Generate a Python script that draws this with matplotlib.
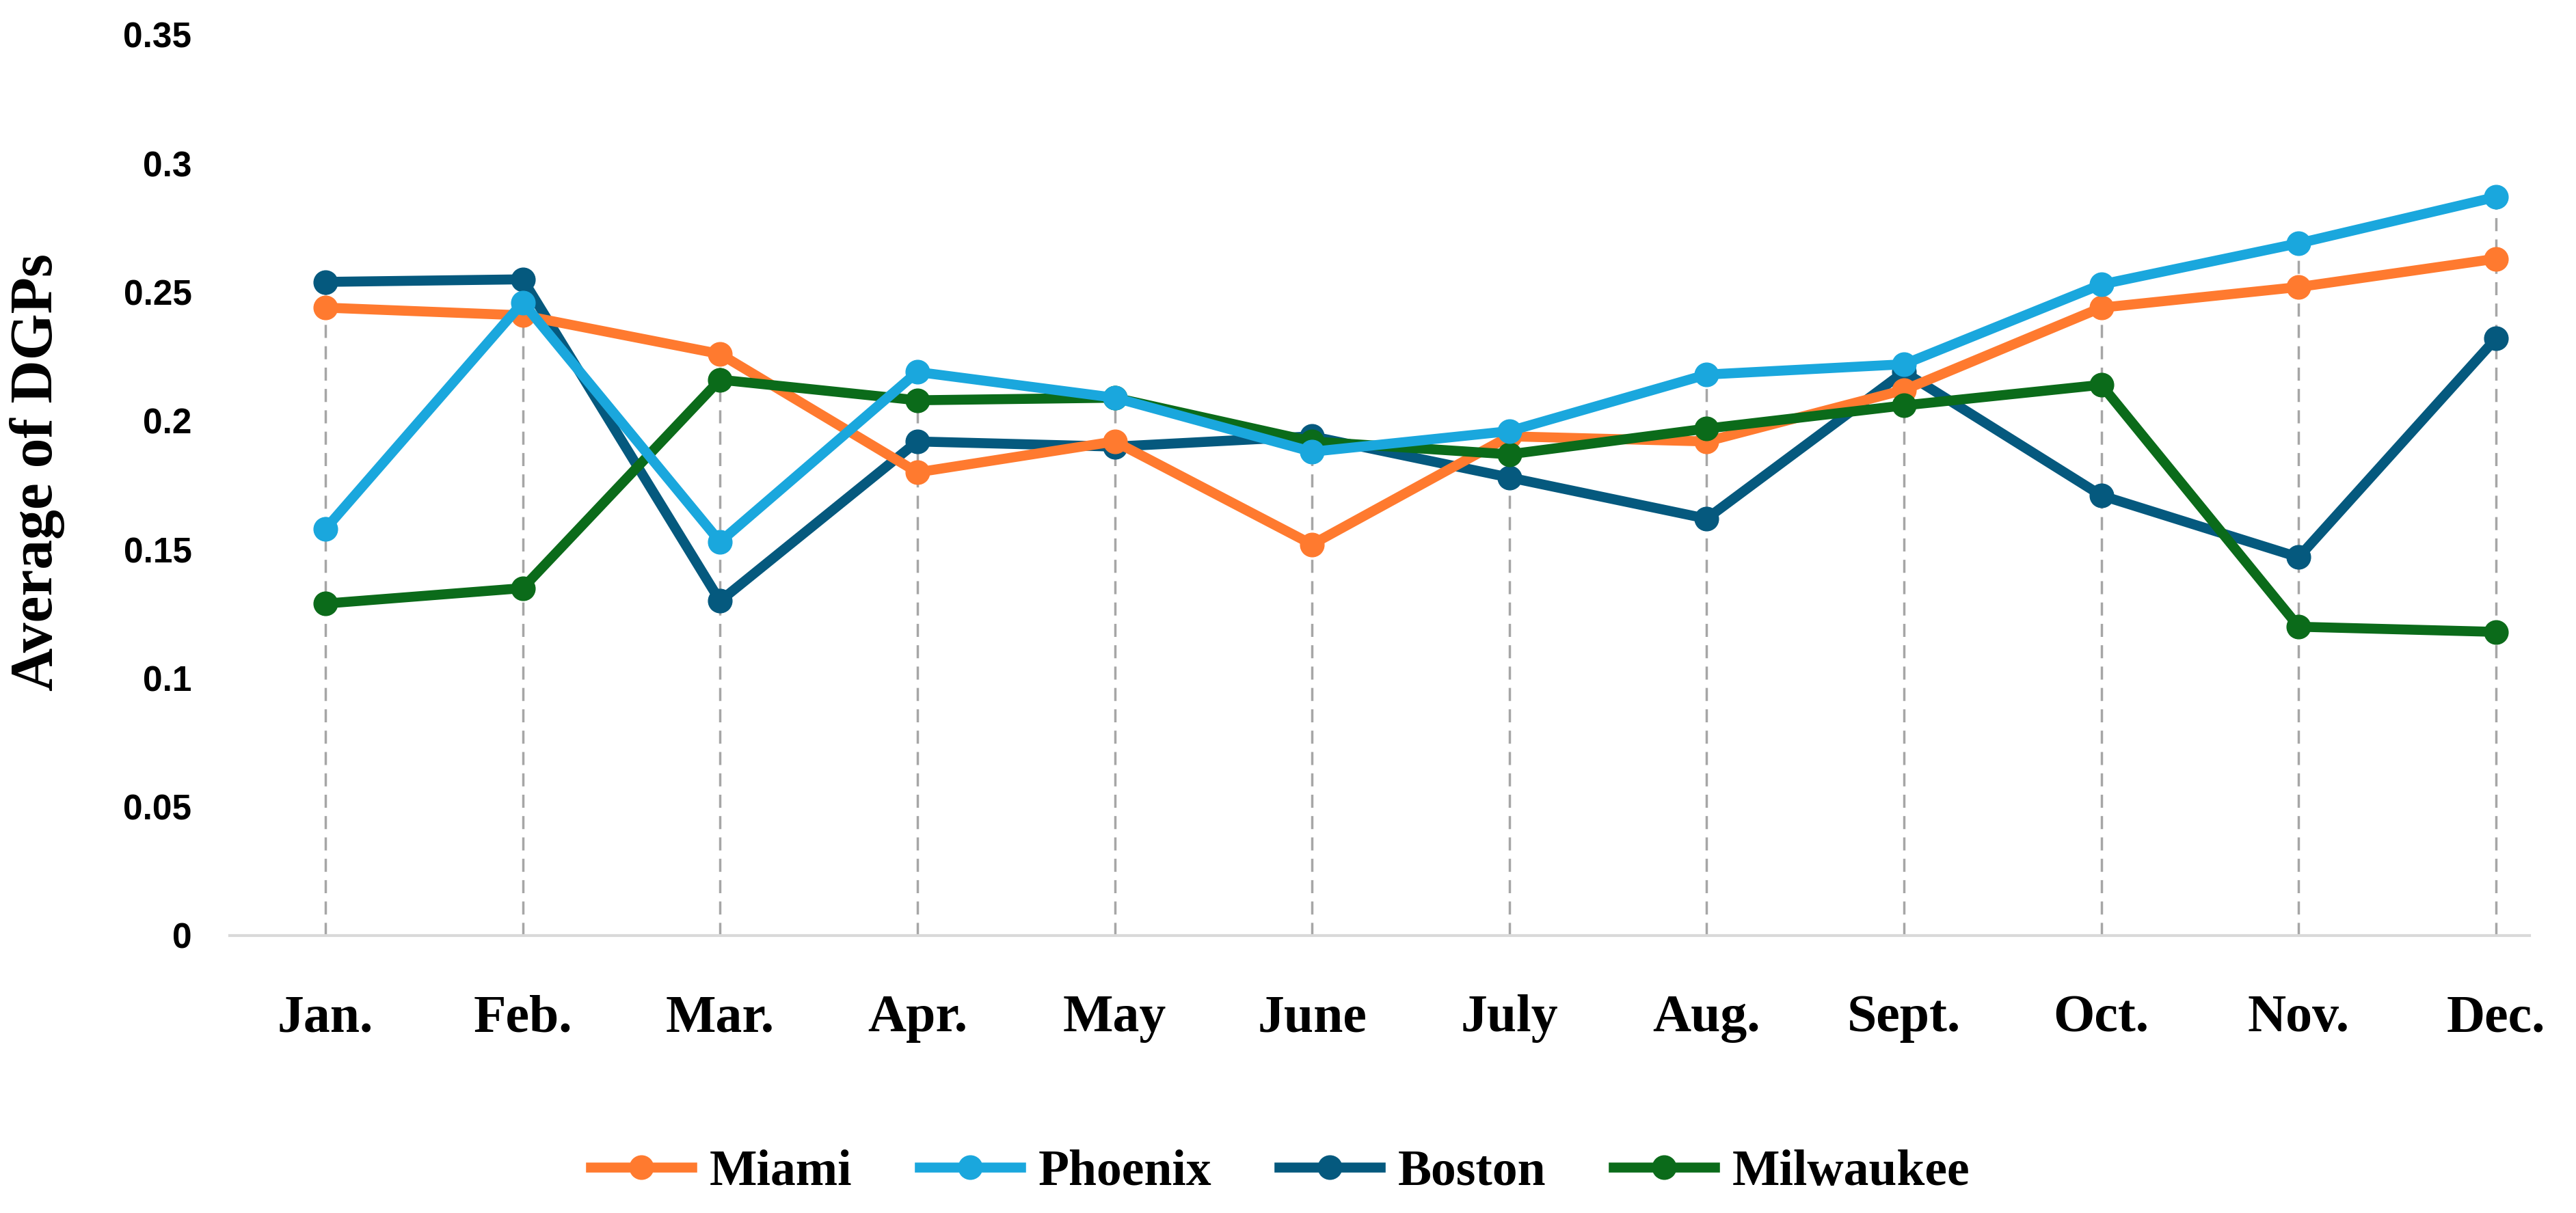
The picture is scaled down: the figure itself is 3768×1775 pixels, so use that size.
import numpy as np
from matplotlib import pyplot as plt
from matplotlib.lines import Line2D

months = ['Jan.', 'Feb.', 'Mar.', 'Apr.', 'May', 'June', 'July', 'Aug.', 'Sept.', 'Oct.', 'Nov.', 'Dec.']

miami = [0.244, 0.241, 0.226, 0.180, 0.192, 0.152, 0.194, 0.192, 0.212, 0.244, 0.252, 0.263]
phoenix = [0.158, 0.246, 0.153, 0.219, 0.209, 0.188, 0.196, 0.218, 0.222, 0.253, 0.269, 0.287]
boston = [0.254, 0.255, 0.130, 0.192, 0.190, 0.194, 0.178, 0.162, 0.219, 0.171, 0.147, 0.232]
milwaukee = [0.129, 0.135, 0.216, 0.208, 0.209, 0.192, 0.187, 0.197, 0.206, 0.214, 0.120, 0.118]

colors = {'Miami': '#FF7A2F', 'Phoenix': '#1AA7DD', 'Boston': '#05597E', 'Milwaukee': '#0B6B1A'}
series = {'Miami': miami, 'Phoenix': phoenix, 'Boston': boston, 'Milwaukee': milwaukee}

serif = 'Liberation Serif'
sans = 'Liberation Sans'

fig = plt.figure(figsize=(37.68, 17.75), dpi=100)
ax = fig.add_axes([336 / 3768, 1 - 1369 / 1775, (3700 - 336) / 3768, (1369 - 51) / 1775])

x = np.arange(len(months))

# drop lines from the axis up to the highest point of each month
top = np.max(np.array([miami, phoenix, boston, milwaukee]), axis=0)
ax.vlines(x, 0, top, colors='#a6a6a6', linewidth=2.5, linestyles=(0, (5.5, 3.5)), zorder=1)

# drawing order (later on top)
for name in ['Boston', 'Miami', 'Milwaukee', 'Phoenix']:
    ax.plot(x, series[name], color=colors[name], linewidth=10.5, marker='o',
            markersize=25, solid_capstyle='round', zorder=3)

ax.set_xlim(-0.485, 11.17)
ax.set_ylim(0, 0.35)
ax.set_yticks(np.arange(0, 0.351, 0.05))
ax.set_yticklabels(['0', '0.05', '0.1', '0.15', '0.2', '0.25', '0.3', '0.35'])
ax.set_xticks(x)
ax.set_xticklabels(months)

for lab in ax.get_xticklabels():
    lab.set_fontfamily(serif)
    lab.set_fontweight('bold')
    lab.set_fontsize(56)
for lab in ax.get_yticklabels():
    lab.set_fontfamily(sans)
    lab.set_fontweight('bold')
    lab.set_fontsize(37)

ax.tick_params(axis='x', length=0, pad=62)
ax.tick_params(axis='y', length=0, pad=40)

for s in ['top', 'right', 'left']:
    ax.spines[s].set_visible(False)
ax.spines['bottom'].set_color('#d9d9d9')
ax.spines['bottom'].set_linewidth(3)

fig.text(55 / 3768, 1 - 691 / 1775, 'Average of DGPs', rotation=90, ha='center', va='center',
         fontfamily=serif, fontweight='bold', fontsize=63)

handles = [Line2D([0], [0], color=colors[n], linewidth=10.5, marker='o', markersize=25)
           for n in ['Miami', 'Phoenix', 'Boston', 'Milwaukee']]
leg = fig.legend(handles, ['Miami', 'Phoenix', 'Boston', 'Milwaukee'], loc='center',
                 bbox_to_anchor=(0.497, 1 - 1716 / 1775), ncol=4, frameon=False,
                 handlelength=2.0, handletextpad=0.35, columnspacing=1.35,
                 prop={'family': serif, 'weight': 'bold', 'size': 53})

plt.savefig('out.png', dpi=100)
